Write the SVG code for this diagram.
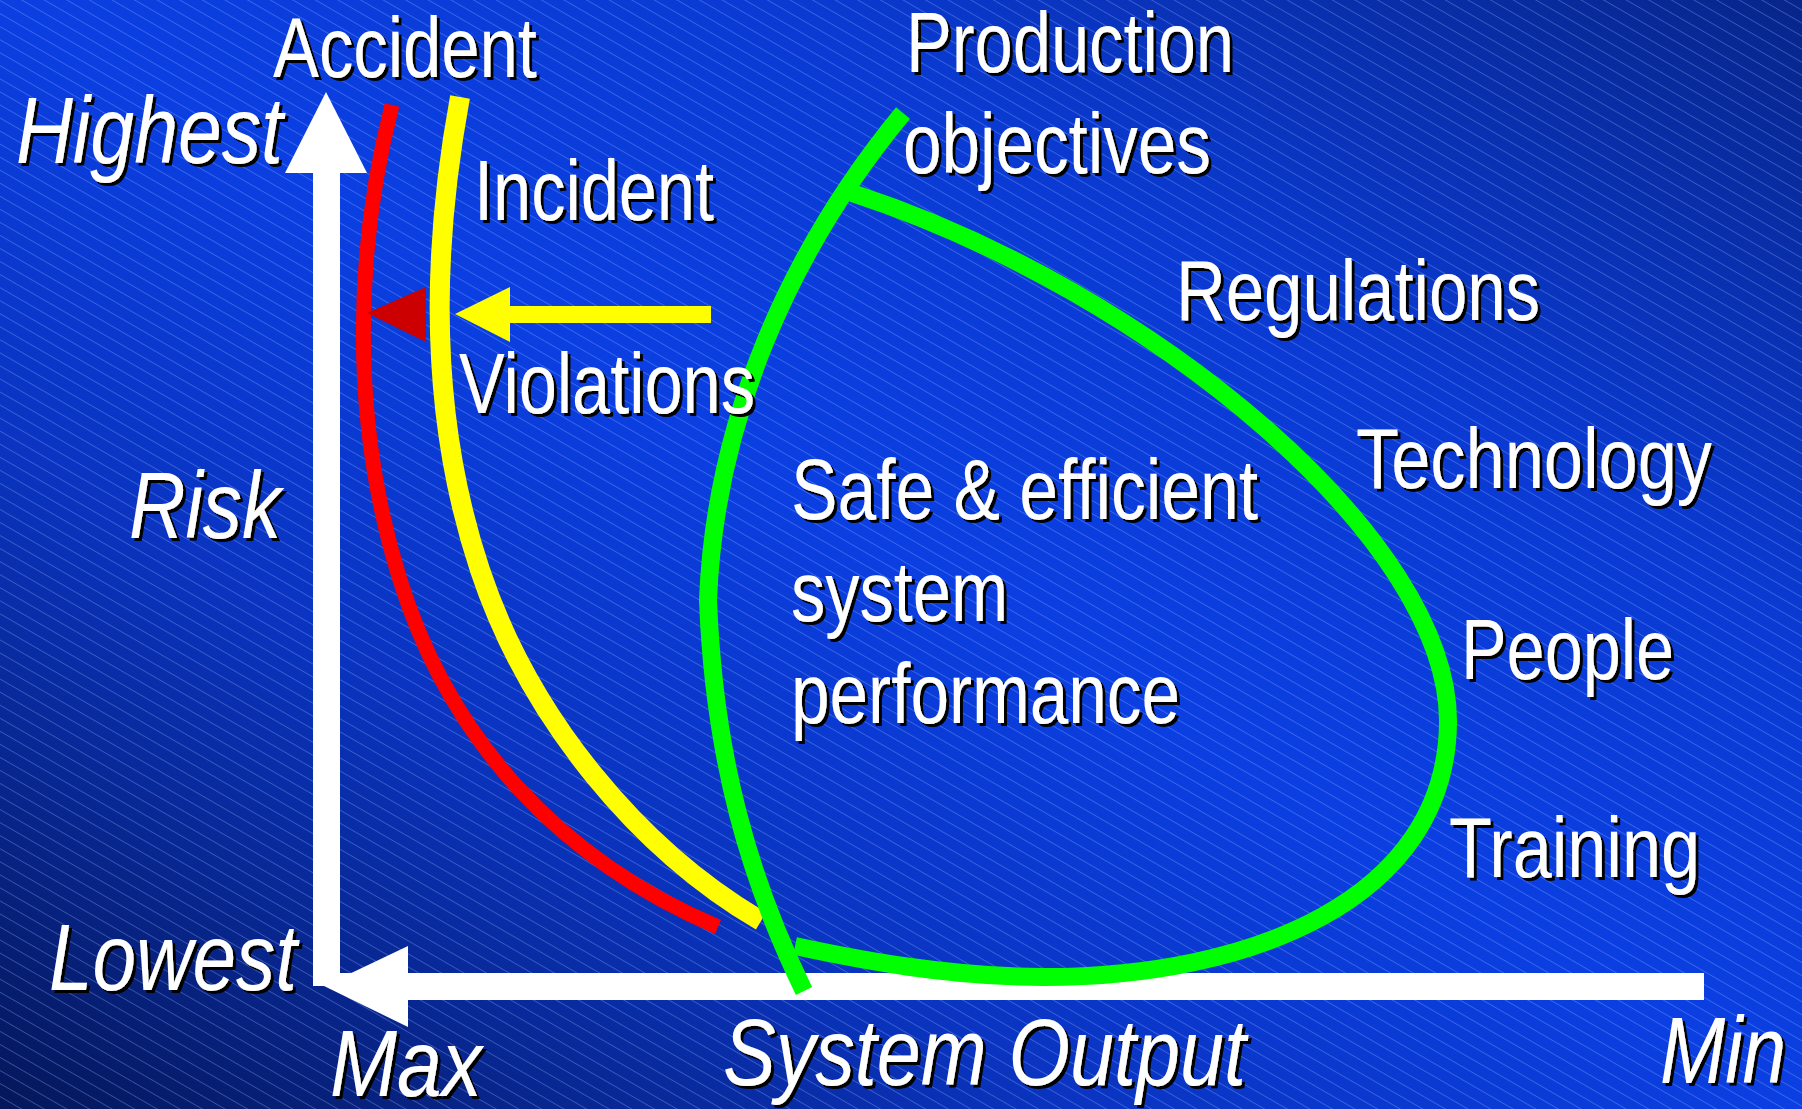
<svg xmlns="http://www.w3.org/2000/svg" width="1802" height="1109" viewBox="0 0 1802 1109">
  <defs>
    <linearGradient id="bg" gradientUnits="userSpaceOnUse" x1="406" y1="1358" x2="1396" y2="-249">
      <stop offset="0" stop-color="#05175a"/>
      <stop offset="0.3" stop-color="#0a34c0"/>
      <stop offset="0.5" stop-color="#0b3fe2"/>
      <stop offset="0.72" stop-color="#0a3ad2"/>
      <stop offset="1" stop-color="#07258a"/>
    </linearGradient>
    <pattern id="hatch" patternUnits="userSpaceOnUse" width="40" height="11.3" patternTransform="rotate(30)">
      <line x1="0" y1="0.5" x2="40" y2="0.5" stroke="#8fb0ff" stroke-width="1" stroke-opacity="0.35"/>
    </pattern>
    <filter id="shadow" x="-5%" y="-10%" width="115%" height="130%">
      <feDropShadow dx="3" dy="3" stdDeviation="0" flood-color="#000" flood-opacity="1"/>
    </filter>
  </defs>
  <style>
    .lbl { font-family: "Liberation Sans Narrow", "Liberation Sans", Arial, sans-serif; font-size: 86px; fill: #ffffff; }
    .ax { font-family: "Liberation Sans Narrow", "Liberation Sans", Arial, sans-serif; font-size: 94px; font-style: italic; fill: #ffffff; }
    .curve { fill: none; stroke-linecap: butt; stroke-linejoin: round; }
    .axis { fill: #ffffff; }
  </style>

  <!-- background -->
  <rect width="1802" height="1109" fill="url(#bg)"/>
  <rect width="1802" height="1109" fill="url(#hatch)"/>

  <!-- axes -->
  <g id="axes">
    <g id="risk-axis">
      <rect class="axis" x="313" y="170" width="27" height="816"/>
      <polygon class="axis" points="326,92 285,173 367,173"/>
    </g>
    <g id="output-axis">
      <rect class="axis" x="404" y="973" width="1300" height="27"/>
      <rect class="axis" x="313" y="973" width="95" height="13"/>
      <polygon class="axis" points="324,986 408,946 408,1027"/>
    </g>
  </g>

  <!-- connectors: boundaries and pressure arrows -->
  <g id="connectors">
    <path id="accident-boundary" class="curve" stroke="#ff0000" stroke-width="15" d="M392,105 C355,250 350,420 400,580 C450,740 560,860 718,927"/>
    <path id="incident-boundary" class="curve" stroke="#ffff00" stroke-width="20" d="M460,97 C430,260 430,420 480,570 C530,720 640,850 761,921"/>
    <polygon id="accident-arrowhead" fill="#cc0000" points="367,313 426,287 426,342"/>
    <g id="violations-arrow" fill="#ffff00">
      <rect x="505" y="306" width="206" height="17"/>
      <polygon points="455,314 510,287 510,342"/>
    </g>
    <path id="production-boundary" class="curve" stroke="#00ff00" stroke-width="18" d="M903,113 C790,250 715,420 708,600 C714,760 750,880 804,991"/>
    <path id="safety-boundary" class="curve" stroke="#00ff00" stroke-width="18" d="M852,193 C1150,290 1450,540 1448,723 C1446,900 1250,977 1044,977 C950,977 860,960 795,946"/>
  </g>

  <!-- labels -->
  <g filter="url(#shadow)">
    <g id="accident"><text class="lbl" x="273" y="77" textLength="264" lengthAdjust="spacingAndGlyphs">Accident</text></g>
    <g id="incident"><text class="lbl" x="474" y="220" textLength="240" lengthAdjust="spacingAndGlyphs">Incident</text></g>
    <g id="violations"><text class="lbl" x="459" y="413" textLength="296" lengthAdjust="spacingAndGlyphs">Violations</text></g>
    <g id="production-objectives">
      <text class="lbl" x="906" y="72" textLength="328" lengthAdjust="spacingAndGlyphs">Production</text>
      <text class="lbl" x="903" y="173" textLength="308" lengthAdjust="spacingAndGlyphs">objectives</text>
    </g>
    <g id="regulations"><text class="lbl" x="1176" y="320" textLength="364" lengthAdjust="spacingAndGlyphs">Regulations</text></g>
    <g id="technology"><text class="lbl" x="1356" y="488" textLength="356" lengthAdjust="spacingAndGlyphs">Technology</text></g>
    <g id="people"><text class="lbl" x="1461" y="679" textLength="213" lengthAdjust="spacingAndGlyphs">People</text></g>
    <g id="training"><text class="lbl" x="1449" y="877" textLength="251" lengthAdjust="spacingAndGlyphs">Training</text></g>
    <g id="safe-efficient">
      <text class="lbl" x="791" y="519" textLength="467" lengthAdjust="spacingAndGlyphs">Safe &amp; efficient</text>
      <text class="lbl" x="791" y="621" textLength="217" lengthAdjust="spacingAndGlyphs">system</text>
      <text class="lbl" x="791" y="723" textLength="389" lengthAdjust="spacingAndGlyphs">performance</text>
    </g>
    <g id="axis-labels">
      <text class="ax" x="16" y="163" textLength="267" lengthAdjust="spacingAndGlyphs">Highest</text>
      <text class="ax" x="129" y="538" textLength="152" lengthAdjust="spacingAndGlyphs">Risk</text>
      <text class="ax" x="49" y="990" textLength="248" lengthAdjust="spacingAndGlyphs">Lowest</text>
      <text class="ax" x="330" y="1096" textLength="152" lengthAdjust="spacingAndGlyphs">Max</text>
      <text class="ax" x="723" y="1085" textLength="523" lengthAdjust="spacingAndGlyphs">System Output</text>
      <text class="ax" x="1660" y="1083" textLength="126" lengthAdjust="spacingAndGlyphs">Min</text>
    </g>
  </g>
</svg>
